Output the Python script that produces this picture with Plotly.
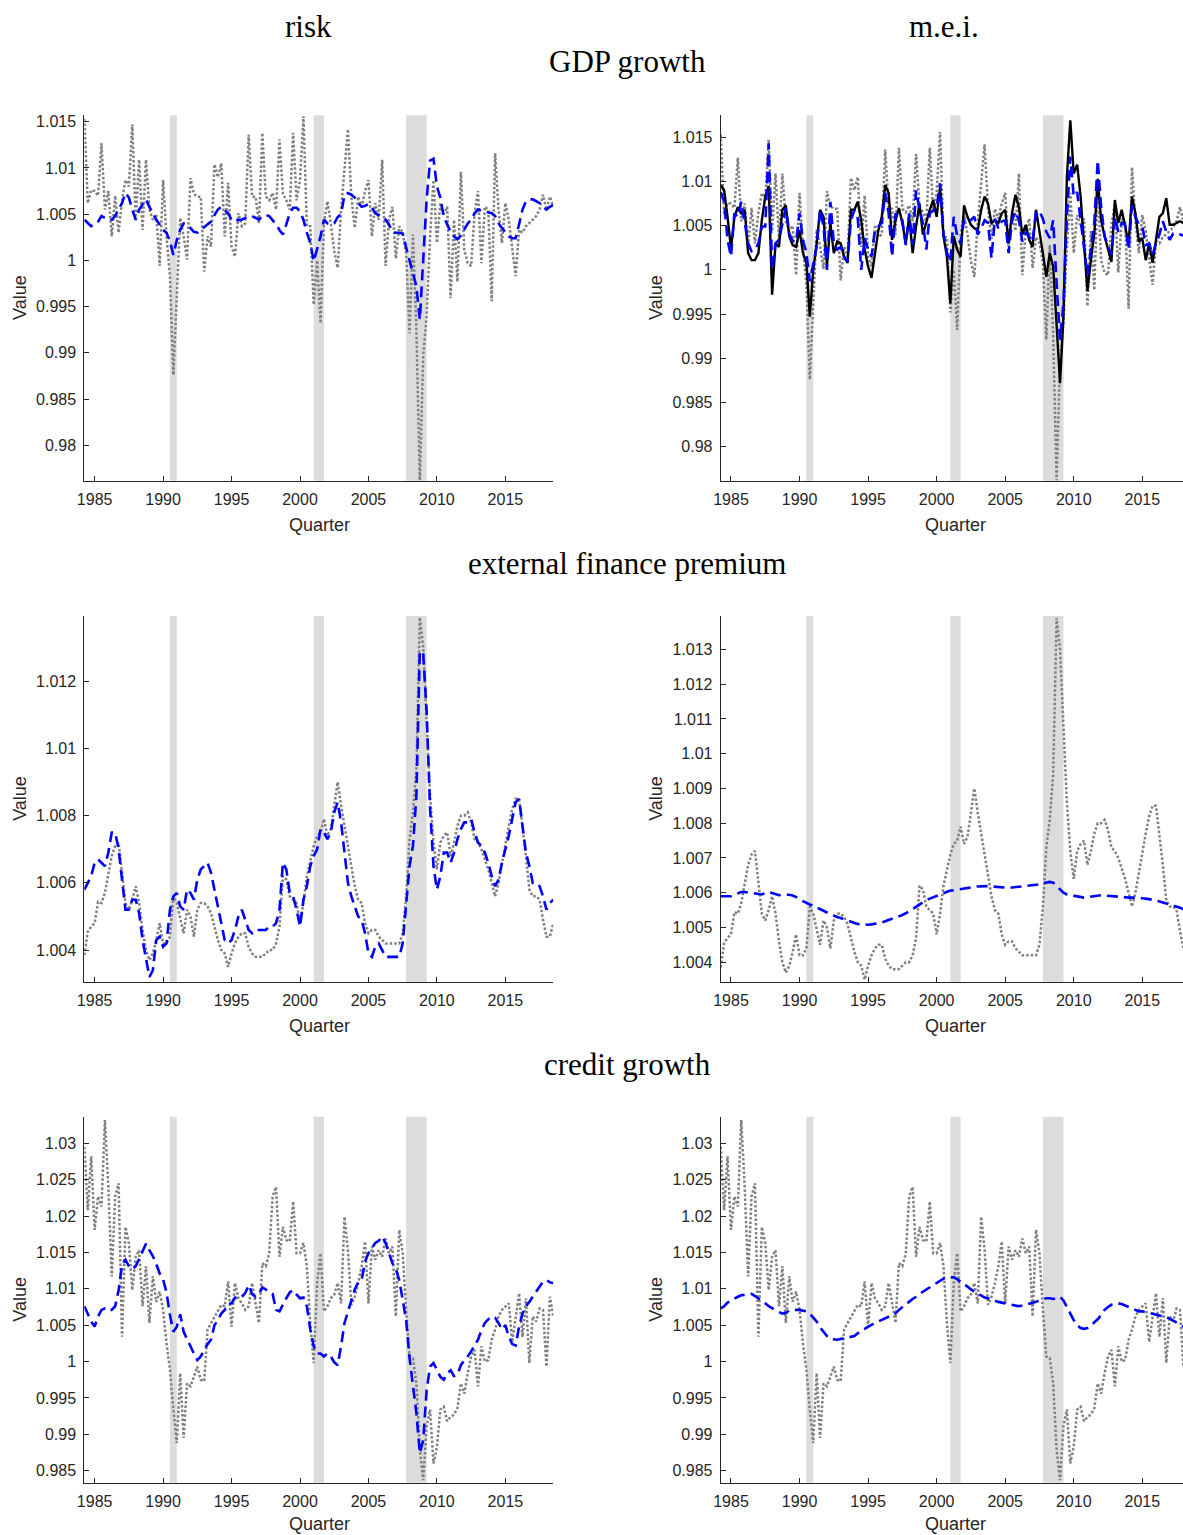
import plotly.graph_objects as go

# ---------------- data ----------------
quarters = [1984.25 + 0.25 * k for k in range(138)]
recessions = [(1990.5, 1991.0), (2001.0, 2001.75), (2007.75, 2009.25)]
year_ticks = [1985, 1990, 1995, 2000, 2005, 2010, 2015]

gdp_data = [
    1.0153, 1.0062, 1.0076, 1.0075, 1.0070, 1.0127, 1.0055, 1.0075, 1.0026, 1.0070,
    1.0030, 1.0065, 1.0087, 1.0080, 1.0147, 1.0044, 1.0109, 1.0033, 1.0109, 1.0055,
    1.0044, 1.0050, 0.9994, 1.0087, 1.0026, 0.9983, 0.9876, 0.9955, 1.0046, 1.0026,
    1.0001, 1.0089, 1.0072, 1.0069, 1.0069, 0.9988, 1.0026, 1.0015, 1.0104, 1.0090,
    1.0105, 1.0026, 1.0084, 1.0015, 1.0004, 1.0051, 1.0037, 1.0040, 1.0136, 1.0069,
    1.0069, 1.0040, 1.0138, 1.0069, 1.0065, 1.0073, 1.0055, 1.0131, 1.0072, 1.0065,
    1.0055, 1.0138, 1.0065, 1.0087, 1.0156, 1.0037, 1.0037, 0.9952, 1.0000, 0.9932,
    1.0040, 1.0064, 1.0040, 1.0010, 0.9992, 1.0055, 1.0100, 1.0142, 1.0069, 1.0035,
    1.0069, 1.0058, 1.0075, 1.0087, 1.0026, 1.0062, 1.0044, 1.0109, 0.9994, 1.0044,
    1.0058, 1.0002, 1.0037, 1.0030, 1.0008, 0.9921, 1.0028, 0.9925, 0.9762, 0.9897,
    0.9940, 1.0026, 1.0087, 1.0019, 1.0062, 1.0050, 1.0058, 0.9959, 1.0044, 0.9977,
    1.0096, 1.0011, 0.9997, 0.9994, 1.0051, 1.0075, 0.9997, 1.0058, 1.0055, 0.9956,
    1.0116, 1.0055, 1.0019, 1.0062, 1.0044, 1.0011, 0.9983, 1.0033, 1.0030, 1.0037,
    1.0040, 1.0044, 1.0048, 1.0055, 1.0071, 1.0055, 1.0069, 1.0058,
]

gdp_risk = [
    1.0044, 1.0040, 1.0037, 1.0039, 1.0042, 1.0048, 1.0046, 1.0044, 1.0044, 1.0048,
    1.0055, 1.0062, 1.0073, 1.0068, 1.0055, 1.0044, 1.0055, 1.0060, 1.0066, 1.0058,
    1.0051, 1.0044, 1.0039, 1.0033, 1.0030, 1.0021, 1.0006, 1.0022, 1.0033, 1.0040,
    1.0039, 1.0035, 1.0031, 1.0030, 1.0033, 1.0035, 1.0039, 1.0042, 1.0049, 1.0055,
    1.0058, 1.0055, 1.0051, 1.0044, 1.0042, 1.0044, 1.0044, 1.0046, 1.0048, 1.0048,
    1.0046, 1.0044, 1.0048, 1.0049, 1.0048, 1.0044, 1.0039, 1.0033, 1.0028, 1.0039,
    1.0051, 1.0057, 1.0057, 1.0053, 1.0044, 1.0030, 1.0019, 0.9999, 1.0012, 1.0026,
    1.0044, 1.0040, 1.0039, 1.0040, 1.0047, 1.0050, 1.0071, 1.0073, 1.0071, 1.0068,
    1.0062, 1.0058, 1.0059, 1.0061, 1.0057, 1.0051, 1.0049, 1.0047, 1.0044, 1.0039,
    1.0031, 1.0030, 1.0030, 1.0029, 1.0014, 0.9999, 0.9985, 0.9972, 0.9936, 0.9995,
    1.0066, 1.0108, 1.0110, 1.0080, 1.0068, 1.0047, 1.0038, 1.0031, 1.0026, 1.0023,
    1.0027, 1.0033, 1.0040, 1.0044, 1.0051, 1.0055, 1.0054, 1.0053, 1.0052, 1.0051,
    1.0048, 1.0040, 1.0035, 1.0030, 1.0026, 1.0024, 1.0024, 1.0039, 1.0055, 1.0064,
    1.0066, 1.0066, 1.0064, 1.0062, 1.0058, 1.0055, 1.0058, 1.0060,
]

gdp_mei_black = [
    1.0096, 1.0090, 1.0060, 1.0024, 1.0060, 1.0071, 1.0064, 1.0068, 1.0019, 1.0011,
    1.0011, 1.0019, 1.0056, 1.0083, 1.0095, 0.9972, 1.0030, 1.0026, 1.0068, 1.0073,
    1.0038, 1.0028, 1.0026, 1.0045, 1.0019, 1.0008, 0.9947, 1.0000, 1.0030, 1.0068,
    1.0060, 1.0004, 1.0053, 1.0019, 1.0032, 1.0030, 1.0015, 1.0008, 1.0068, 1.0068,
    1.0077, 1.0056, 1.0023, 1.0004, 0.9991, 1.0019, 1.0045, 1.0060, 1.0096, 1.0087,
    1.0034, 1.0056, 1.0070, 1.0053, 1.0030, 1.0060, 1.0019, 1.0049, 1.0075, 1.0040,
    1.0055, 1.0068, 1.0079, 1.0060, 1.0094, 1.0038, 1.0015, 0.9962, 1.0038, 1.0023,
    1.0015, 1.0073, 1.0060, 1.0051, 1.0047, 1.0045, 1.0068, 1.0083, 1.0075, 1.0053,
    1.0056, 1.0053, 1.0064, 1.0068, 1.0030, 1.0064, 1.0085, 1.0071, 1.0040, 1.0051,
    1.0034, 1.0026, 1.0068, 1.0045, 1.0019, 0.9992, 1.0019, 1.0004, 0.9940, 0.9872,
    0.9947, 1.0105, 1.0169, 1.0109, 1.0119, 1.0083, 1.0030, 0.9976, 1.0011, 1.0041,
    1.0103, 1.0056, 1.0038, 1.0023, 1.0009, 1.0079, 1.0053, 1.0068, 1.0049, 1.0030,
    1.0083, 1.0064, 1.0032, 1.0036, 1.0011, 1.0030, 1.0008, 1.0036, 1.0060, 1.0064,
    1.0081, 1.0051, 1.0051, 1.0053, 1.0055, 1.0053, 1.0055, 1.0055,
]

gdp_mei_blue = [
    1.0088, 1.0077, 1.0034, 1.0015, 1.0064, 1.0060, 1.0077, 1.0051, 1.0030, 1.0021,
    1.0023, 1.0030, 1.0049, 1.0049, 1.0143, 1.0000, 1.0030, 1.0034, 1.0051, 1.0070,
    1.0041, 1.0033, 1.0032, 1.0064, 1.0034, 1.0019, 0.9987, 1.0008, 1.0026, 1.0068,
    1.0049, 1.0000, 1.0077, 1.0030, 1.0023, 1.0026, 1.0015, 1.0009, 1.0056, 1.0068,
    1.0058, 1.0000, 1.0036, 1.0023, 1.0015, 1.0045, 1.0049, 1.0053, 1.0087, 1.0064,
    1.0015, 1.0064, 1.0056, 1.0056, 1.0028, 1.0064, 1.0028, 1.0090, 1.0068, 1.0053,
    1.0023, 1.0064, 1.0067, 1.0071, 1.0098, 1.0041, 1.0019, 1.0009, 1.0060, 1.0038,
    1.0030, 1.0056, 1.0053, 1.0056, 1.0060, 1.0040, 1.0047, 1.0056, 1.0053, 1.0013,
    1.0058, 1.0047, 1.0055, 1.0056, 1.0019, 1.0056, 1.0066, 1.0056, 1.0032, 1.0043,
    1.0038, 1.0032, 1.0066, 1.0066, 1.0058, 1.0043, 1.0036, 1.0056, 0.9985, 0.9921,
    0.9962, 1.0060, 1.0128, 1.0083, 1.0088, 1.0056, 1.0019, 0.9994, 1.0023, 1.0053,
    1.0124, 1.0071, 1.0038, 1.0028, 1.0017, 1.0060, 1.0043, 1.0053, 1.0051, 1.0023,
    1.0073, 1.0060, 1.0051, 1.0049, 1.0028, 1.0030, 1.0017, 1.0030, 1.0040, 1.0055,
    1.0043, 1.0034, 1.0041, 1.0041, 1.0040, 1.0039, 1.0040, 1.0040,
]

efp_data = [
    1.00385, 1.00455, 1.0047, 1.0048, 1.00544, 1.0054, 1.0057, 1.0062, 1.0068, 1.0071,
    1.0072, 1.0063, 1.0054, 1.0052, 1.0055, 1.0059, 1.0054, 1.0046, 1.0040, 1.0037,
    1.0039, 1.0043, 1.0048, 1.0042, 1.0042, 1.0044, 1.0056, 1.0054, 1.0049, 1.0045,
    1.0052, 1.0050, 1.0044, 1.0052, 1.0054, 1.0054, 1.0053, 1.0051, 1.0047, 1.0043,
    1.0040, 1.0039, 1.0035, 1.0039, 1.0042, 1.0044, 1.0045, 1.0045, 1.0041, 1.0039,
    1.0038, 1.0038, 1.0038, 1.0039, 1.0040, 1.0040, 1.0042, 1.0047, 1.0062, 1.0061,
    1.0056, 1.0055, 1.0054, 1.0048, 1.0054, 1.0062, 1.0067, 1.0071, 1.0074, 1.0075,
    1.0079, 1.0074, 1.0076, 1.0083, 1.0090, 1.0083, 1.0077, 1.0071, 1.0065, 1.0059,
    1.0055, 1.0054, 1.0048, 1.0045, 1.0046, 1.0046, 1.0044, 1.0043, 1.0042, 1.0042,
    1.0042, 1.0042, 1.0042, 1.0045, 1.0056, 1.0073, 1.0081, 1.0094, 1.0139, 1.0130,
    1.0108, 1.0086, 1.0072, 1.0064, 1.0072, 1.0074, 1.0075, 1.0068, 1.0072, 1.0077,
    1.0080, 1.0080, 1.0081, 1.0078, 1.0073, 1.0072, 1.0070, 1.0067, 1.0064, 1.0060,
    1.0056, 1.0060, 1.0066, 1.0071, 1.0077, 1.0082, 1.0085, 1.0085, 1.0077, 1.0068,
    1.0058, 1.0056, 1.0056, 1.0055, 1.0049, 1.0044, 1.0044, 1.0048,
]

efp_risk = [
    1.0058, 1.0060, 1.0062, 1.0066, 1.0067, 1.0066, 1.0065, 1.0069, 1.0075, 1.0075,
    1.0070, 1.0061, 1.0052, 1.0052, 1.0055, 1.0055, 1.0051, 1.0043, 1.0037, 1.0032,
    1.0034, 1.0043, 1.0044, 1.0041, 1.0042, 1.0052, 1.0056, 1.0057, 1.0053, 1.0052,
    1.0058, 1.0057, 1.0055, 1.0061, 1.0064, 1.0065, 1.0066, 1.0063, 1.0058, 1.0053,
    1.0047, 1.0043, 1.0042, 1.0043, 1.0046, 1.0050, 1.0052, 1.0049, 1.0046, 1.0045,
    1.0046, 1.0046, 1.0046, 1.0046, 1.0047, 1.0047, 1.0048, 1.0052, 1.0066, 1.0064,
    1.0057, 1.0056, 1.0052, 1.0047, 1.0055, 1.0059, 1.0065, 1.0068, 1.0070, 1.0076,
    1.0075, 1.0073, 1.0075, 1.0081, 1.0084, 1.0078, 1.0069, 1.0060, 1.0056, 1.0053,
    1.0050, 1.0049, 1.0045, 1.0039, 1.0038, 1.0041, 1.0042, 1.0040, 1.0038, 1.0038,
    1.0038, 1.0038, 1.0038, 1.0042, 1.0053, 1.0065, 1.0071, 1.0086, 1.0129, 1.0128,
    1.0111, 1.0082, 1.0065, 1.0058, 1.0062, 1.0069, 1.0069, 1.0066, 1.0069, 1.0073,
    1.0076, 1.0078, 1.0078, 1.0079, 1.0075, 1.0072, 1.0071, 1.0069, 1.0066, 1.0062,
    1.0059, 1.0061, 1.0066, 1.0070, 1.0074, 1.0079, 1.0084, 1.0085, 1.0077, 1.0069,
    1.0065, 1.0060, 1.0060, 1.0059, 1.0056, 1.0052, 1.0054, 1.0055,
]

efp_mei = [
    1.00590, 1.00590, 1.00589, 1.00590, 1.00594, 1.00598, 1.00602, 1.00602, 1.00601, 1.00600,
    1.00598, 1.00596, 1.00595, 1.00599, 1.00602, 1.00599, 1.00595, 1.00593, 1.00594, 1.00595,
    1.00594, 1.00592, 1.00588, 1.00583, 1.00576, 1.00570, 1.00566, 1.00562, 1.00558, 1.00553,
    1.00548, 1.00543, 1.00538, 1.00534, 1.00530, 1.00527, 1.00523, 1.00519, 1.00516, 1.00513,
    1.00510, 1.00509, 1.00508, 1.00508, 1.00509, 1.00510, 1.00512, 1.00514, 1.00518, 1.00521,
    1.00525, 1.00529, 1.00532, 1.00536, 1.00540, 1.00546, 1.00553, 1.00560, 1.00567, 1.00574,
    1.00579, 1.00583, 1.00587, 1.00590, 1.00594, 1.00599, 1.00604, 1.00606, 1.00607, 1.00609,
    1.00611, 1.00613, 1.00614, 1.00615, 1.00617, 1.00618, 1.00619, 1.00619, 1.00619, 1.00618,
    1.00617, 1.00616, 1.00615, 1.00614, 1.00614, 1.00615, 1.00616, 1.00618, 1.00619, 1.00619,
    1.00619, 1.00620, 1.00622, 1.00624, 1.00627, 1.00630, 1.00631, 1.00629, 1.00619, 1.00608,
    1.00600, 1.00595, 1.00593, 1.00591, 1.00589, 1.00587, 1.00586, 1.00587, 1.00589, 1.00591,
    1.00592, 1.00593, 1.00592, 1.00591, 1.00589, 1.00588, 1.00587, 1.00586, 1.00586, 1.00586,
    1.00586, 1.00586, 1.00585, 1.00584, 1.00583, 1.00582, 1.00580, 1.00578, 1.00575, 1.00572,
    1.00570, 1.00567, 1.00564, 1.00561, 1.00557, 1.00552, 1.00547, 1.00542,
]

credit_data = [
    1.0295, 1.0208, 1.0282, 1.0181, 1.0227, 1.0213, 1.0332, 1.0240, 1.0117, 1.0227,
    1.0245, 1.0034, 1.0185, 1.0163, 1.0098, 1.0144, 1.0153, 1.0076, 1.0131, 1.0053,
    1.0117, 1.0082, 1.0096, 1.0071, 1.0025, 0.9989, 0.9934, 0.9888, 0.9984, 0.9895,
    0.9970, 0.9966, 0.9979, 0.9993, 0.9975, 0.9973, 1.0044, 1.0053, 1.0062, 1.0071,
    1.0078, 1.0076, 1.0110, 1.0048, 1.0108, 1.0087, 1.0080, 1.0071, 1.0076, 1.0108,
    1.0080, 1.0053, 1.0135, 1.0131, 1.0149, 1.0227, 1.0240, 1.0144, 1.0185, 1.0167,
    1.0165, 1.0220, 1.0149, 1.0149, 1.0163, 1.0131, 1.0053, 0.9998, 1.0108, 1.0149,
    1.0069, 1.0076, 1.0087, 1.0092, 1.0108, 1.0080, 1.0199, 1.0153, 1.0078, 1.0089,
    1.0108, 1.0131, 1.0165, 1.0080, 1.0158, 1.0140, 1.0153, 1.0144, 1.0169, 1.0149,
    1.0158, 1.0062, 1.0181, 1.0149, 1.0071, 1.0007, 1.0005, 0.9970, 0.9879, 0.9837,
    0.9911, 0.9934, 0.9860, 0.9883, 0.9934, 0.9938, 0.9918, 0.9924, 0.9927, 0.9936,
    0.9970, 0.9956, 0.9984, 1.0007, 1.0016, 0.9966, 1.0021, 1.0000, 1.0002, 1.0030,
    1.0044, 1.0062, 1.0071, 1.0076, 1.0080, 1.0027, 1.0062, 1.0094, 1.0034, 1.0087,
    0.9998, 1.0062, 1.0055, 1.0073, 1.0071, 0.9993, 1.0089, 1.0062,
]

credit_risk = [
    1.0076, 1.0066, 1.0055, 1.0048, 1.0062, 1.0071, 1.0073, 1.0070, 1.0071, 1.0076,
    1.0098, 1.0133, 1.0140, 1.0131, 1.0127, 1.0131, 1.0141, 1.0153, 1.0162, 1.0153,
    1.0145, 1.0134, 1.0121, 1.0113, 1.0095, 1.0064, 1.0041, 1.0048, 1.0065, 1.0041,
    1.0030, 1.0021, 1.0011, 1.0002, 1.0007, 1.0016, 1.0024, 1.0030, 1.0050, 1.0057,
    1.0066, 1.0071, 1.0079, 1.0080, 1.0088, 1.0086, 1.0089, 1.0094, 1.0105, 1.0093,
    1.0089, 1.0093, 1.0102, 1.0099, 1.0095, 1.0093, 1.0071, 1.0069, 1.0079, 1.0087,
    1.0095, 1.0098, 1.0092, 1.0087, 1.0088, 1.0076, 1.0044, 1.0021, 1.0011, 1.0011,
    1.0007, 1.0011, 1.0007, 0.9999, 0.9995, 1.0021, 1.0053, 1.0069, 1.0084, 1.0099,
    1.0109, 1.0112, 1.0137, 1.0149, 1.0156, 1.0163, 1.0166, 1.0172, 1.0163, 1.0148,
    1.0135, 1.0127, 1.0112, 1.0085, 1.0057, 1.0005, 0.9968, 0.9929, 0.9874, 0.9892,
    0.9961, 0.9993, 0.9998, 0.9989, 0.9979, 0.9975, 0.9984, 0.9988, 0.9980, 0.9982,
    0.9995, 1.0002, 1.0007, 1.0014, 1.0023, 1.0030, 1.0043, 1.0053, 1.0058, 1.0062,
    1.0060, 1.0053, 1.0044, 1.0050, 1.0034, 1.0024, 1.0022, 1.0048, 1.0066, 1.0076,
    1.0082, 1.0089, 1.0095, 1.0103, 1.0110, 1.0112, 1.0109, 1.0108,
]

credit_mei = [
    1.0073, 1.0076, 1.0081, 1.0084, 1.0087, 1.0089, 1.0091, 1.0092, 1.0093, 1.0093,
    1.0090, 1.0087, 1.0084, 1.0080, 1.0076, 1.0073, 1.0070, 1.0068, 1.0066, 1.0067,
    1.0070, 1.0071, 1.0071, 1.0071, 1.0070, 1.0069, 1.0066, 1.0060, 1.0055, 1.0047,
    1.0041, 1.0035, 1.0031, 1.0030, 1.0030, 1.0031, 1.0032, 1.0032, 1.0033, 1.0035,
    1.0039, 1.0043, 1.0045, 1.0048, 1.0050, 1.0053, 1.0055, 1.0057, 1.0059, 1.0061,
    1.0063, 1.0066, 1.0071, 1.0075, 1.0078, 1.0082, 1.0086, 1.0089, 1.0093, 1.0096,
    1.0099, 1.0102, 1.0106, 1.0109, 1.0112, 1.0114, 1.0115, 1.0116, 1.0116, 1.0113,
    1.0110, 1.0106, 1.0103, 1.0099, 1.0096, 1.0093, 1.0091, 1.0088, 1.0087, 1.0085,
    1.0083, 1.0082, 1.0081, 1.0080, 1.0080, 1.0078, 1.0077, 1.0076, 1.0077, 1.0078,
    1.0080, 1.0081, 1.0082, 1.0084, 1.0086, 1.0087, 1.0087, 1.0086, 1.0087, 1.0089,
    1.0084, 1.0076, 1.0066, 1.0057, 1.0050, 1.0046, 1.0045, 1.0046, 1.0049, 1.0054,
    1.0058, 1.0064, 1.0071, 1.0075, 1.0078, 1.0079, 1.0080, 1.0079, 1.0077, 1.0075,
    1.0072, 1.0070, 1.0069, 1.0069, 1.0068, 1.0066, 1.0066, 1.0065, 1.0064, 1.0063,
    1.0061, 1.0059, 1.0056, 1.0054, 1.0050, 1.0048, 1.0046, 1.0044,
]

gdp_ticks = [0.98, 0.985, 0.99, 0.995, 1.0, 1.005, 1.01, 1.015]
gdp_tick_text = ["0.98", "0.985", "0.99", "0.995", "1", "1.005", "1.01", "1.015"]
efp_risk_ticks = [1.004, 1.006, 1.008, 1.010, 1.012]
efp_risk_tick_text = ["1.004", "1.006", "1.008", "1.01", "1.012"]
efp_mei_ticks = [1.004, 1.005, 1.006, 1.007, 1.008, 1.009, 1.010, 1.011, 1.012, 1.013]
efp_mei_tick_text = ["1.004", "1.005", "1.006", "1.007", "1.008", "1.009", "1.01", "1.011", "1.012", "1.013"]
credit_ticks = [0.985, 0.99, 0.995, 1.0, 1.005, 1.01, 1.015, 1.02, 1.025, 1.03]
credit_tick_text = ["0.985", "0.99", "0.995", "1", "1.005", "1.01", "1.015", "1.02", "1.025", "1.03"]

# ---------------- styling / layout ----------------
W, H = 1183, 1535
GREY = "#808080"
BLUE = "#0000ff"
BLACK = "#000000"
AX = "#262626"
TICKFONT = dict(family="Liberation Sans, Arial, sans-serif", size=16, color=AX)
LABELFONT = dict(family="Liberation Sans, Arial, sans-serif", size=18, color=AX)
SERIF = dict(family="Liberation Serif, Times New Roman, serif", size=31, color="#000000")

DOT = ("2.5px,2px", 2.5)
DASH = ("11px,6px", 2.6)

col_x = {0: (84.3 / W, 553.3 / W), 1: (720.7 / W, 1.0)}
col_xrange = {0: [1984.245, 2018.5], 1: [1984.25, 2017.97]}
row_y = {0: (115.3, 480.7), 1: (616.0, 981.7), 2: (1116.7, 1482.7)}

panels = [
    (0, 0, gdp_ticks, gdp_tick_text, [0.97617, 1.0157],
     [(gdp_data, GREY) + DOT, (gdp_risk, BLUE) + DASH]),
    (0, 1, gdp_ticks, gdp_tick_text, [0.97616, 1.01748],
     [(gdp_data, GREY) + DOT, (gdp_mei_black, BLACK, "solid", 2.4),
      (gdp_mei_blue, BLUE) + DASH]),
    (1, 0, efp_risk_ticks, efp_risk_tick_text, [1.00306, 1.01394],
     [(efp_data, GREY) + DOT, (efp_risk, BLUE) + DASH]),
    (1, 1, efp_mei_ticks, efp_mei_tick_text, [1.00344, 1.01396],
     [(efp_data, GREY) + DOT, (efp_mei, BLUE) + DASH]),
    (2, 0, credit_ticks, credit_tick_text, [0.98335, 1.03365],
     [(credit_data, GREY) + DOT, (credit_risk, BLUE) + DASH]),
    (2, 1, credit_ticks, credit_tick_text, [0.98335, 1.03365],
     [(credit_data, GREY) + DOT, (credit_mei, BLUE) + DASH]),
]

fig = go.Figure()
layout = dict(width=W, height=H, autosize=False,
              margin=dict(l=0, r=0, t=0, b=0, pad=0, autoexpand=False),
              paper_bgcolor="white", plot_bgcolor="white", showlegend=False)
shapes = []
annotations = []

for k, (r, c, yt, ytt, yr, series) in enumerate(panels, start=1):
    xa = "xaxis" if k == 1 else f"xaxis{k}"
    ya = "yaxis" if k == 1 else f"yaxis{k}"
    xref = "x" if k == 1 else f"x{k}"
    yref = "y" if k == 1 else f"y{k}"
    y0p, y1p = row_y[r]
    common = dict(showline=True, linecolor=AX, linewidth=1, mirror=False,
                  ticks="inside", ticklen=5, tickcolor=AX, tickwidth=1,
                  tickfont=TICKFONT, showgrid=False, zeroline=False,
                  fixedrange=True, automargin=False)
    layout[xa] = dict(domain=list(col_x[c]), range=col_xrange[c], anchor=yref,
                      tickvals=year_ticks, ticktext=[str(v) for v in year_ticks],
                      ticklabelstandoff=4, **common)
    layout[ya] = dict(domain=[1 - y1p / H, 1 - y0p / H], range=yr, anchor=xref,
                      tickvals=yt, ticktext=ytt, ticklabelstandoff=4, **common)
    for (a, b) in recessions:
        shapes.append(dict(type="rect", xref=xref, yref=f"{yref} domain", x0=a, x1=b,
                           y0=0, y1=1, fillcolor="#dcdcdc", line=dict(width=0),
                           layer="below"))
    for (vals, color, dash, width) in series:
        fig.add_trace(go.Scatter(x=quarters, y=vals, mode="lines", xaxis=xref, yaxis=yref,
                                 line=dict(color=color, dash=dash, width=width),
                                 hoverinfo="skip", showlegend=False))
    cx = 319 / W if c == 0 else 955 / W
    qy = min(y1p + 44, 1524)
    annotations.append(dict(text="Quarter", x=cx, y=1 - qy / H, xref="paper",
                            yref="paper", showarrow=False, font=LABELFONT,
                            xanchor="center", yanchor="middle"))
    vx = 20 / W if c == 0 else 656 / W
    annotations.append(dict(text="Value", x=vx, y=1 - (y0p + y1p) / 2 / H, xref="paper",
                            yref="paper", showarrow=False, font=LABELFONT, textangle=-90,
                            xanchor="center", yanchor="middle"))

for text, px, py in [("risk", 308, 27), ("m.e.i.", 944, 27), ("GDP growth", 627, 62),
                     ("external finance premium", 627, 563), ("credit growth", 627, 1064)]:
    annotations.append(dict(text=text, x=px / W, y=1 - py / H, xref="paper", yref="paper",
                            showarrow=False, font=SERIF, xanchor="center", yanchor="middle"))

layout["shapes"] = shapes
layout["annotations"] = annotations
fig.update_layout(**layout)
fig.write_html("out.html")
